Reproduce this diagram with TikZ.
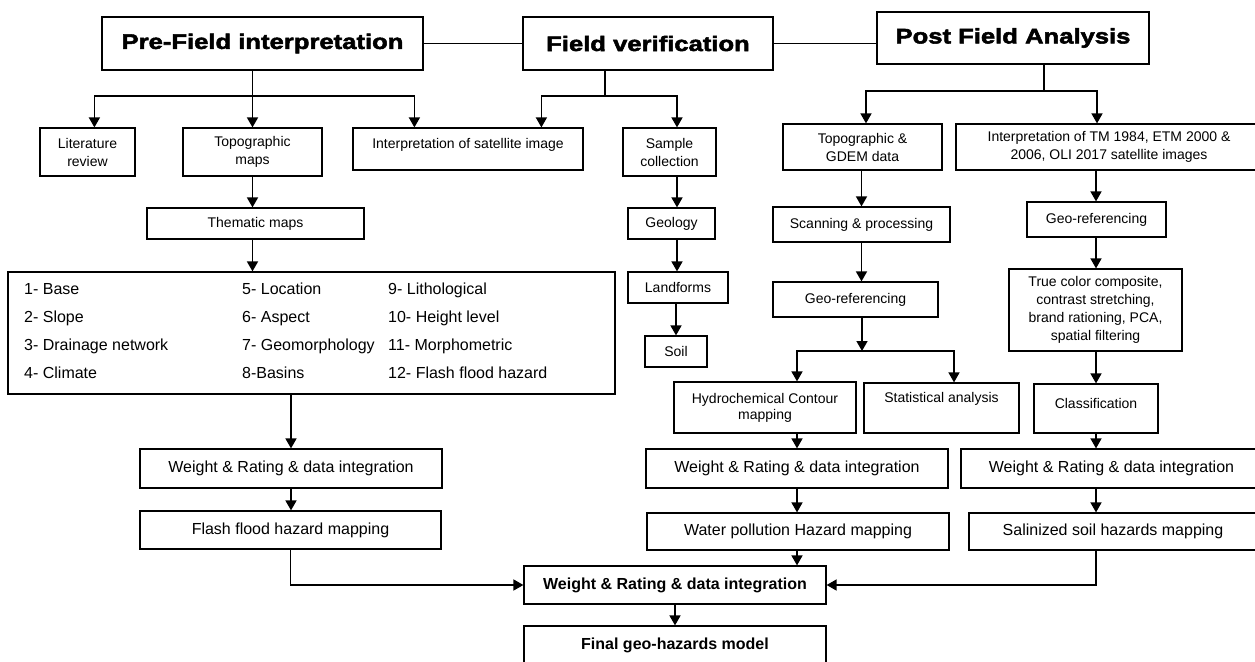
\documentclass[tikz,border=0pt]{standalone}
\usepackage{fontspec}
\setmainfont{Liberation Sans}
\newfontfamily\headfont{Liberation Sans}[FakeStretch=1.22,BoldFeatures={FakeBold=2.5}]
\usetikzlibrary{positioning,arrows.meta}

\tikzset{
  box/.style={draw,line width=1.2pt,inner sep=0pt,align=center,font=\fontsize{14}{18}\selectfont},
  midbox/.style={box,font=\fontsize{16}{20}\selectfont},
  headbox/.style={box,line width=1.4pt,font=\headfont\bfseries\fontsize{21}{25}\selectfont},
  lift/.style={text depth=#1},
  link/.style={line width=1.6pt}
}

\begin{document}
\begin{tikzpicture}[x=1pt,y=-1pt,>={Triangle[length=10pt,width=11pt]}]
  \useasboundingbox (0,0) rectangle (1255,661);
  \clip (0,0) rectangle (1255,661);

  % stages
  \node[headbox,minimum width=321,minimum height=53] (pre) at (262.5,43.5) {Pre-Field interpretation};
  \node[headbox,minimum width=250,minimum height=53] (field) at (648,43.5) {Field verification};
  \node[headbox,minimum width=272,minimum height=52] (post) at (1013,38) {Post Field Analysis};

  % pre-field side
  \node[box,minimum width=95,minimum height=48] (lit) at (87.5,152) {Literature\\review};
  \node[box,minimum width=139,minimum height=48] (topo) at (252.5,152) {Topographic\\maps};
  \node[box,minimum width=230,minimum height=42,lift=11] (satint) at (468,149) {Interpretation of satellite image};
  \node[box,minimum width=217,minimum height=31] (thematic) at (255.5,223.5) {Thematic maps};
  \node[box,minimum width=607,minimum height=122] (params) at (311.5,333) {};
  \node[anchor=west,inner sep=0pt,font=\fontsize{16}{28}\selectfont] (plist) at (24,331) {%
    \begin{tabular}{@{}p{218pt}@{}p{146pt}@{}l@{}}
      1- Base & 5- Location & 9- Lithological\\
      2- Slope & 6- Aspect & 10- Height level\\
      3- Drainage network & 7- Geomorphology & 11- Morphometric\\
      4- Climate & 8-Basins & 12- Flash flood hazard
    \end{tabular}};

  % field side
  \node[box,minimum width=93,minimum height=48] (sample) at (669.5,152) {Sample\\collection};
  \node[box,minimum width=87,minimum height=31] (geology) at (671.5,223.5) {Geology};
  \node[box,minimum width=100,minimum height=31] (landforms) at (678,287.5) {Landforms};
  \node[box,minimum width=62,minimum height=31] (soil) at (676,351.5) {Soil};

  % post-field side
  \node[box,minimum width=159,minimum height=46] (gdem) at (862.5,147) {Topographic \&\\GDEM data};
  \node[box,minimum width=306,minimum height=46] (tm) at (1109,147) {Interpretation of TM 1984, ETM 2000 \&\\2006, OLI 2017 satellite images};
  \node[box,minimum width=177,minimum height=35] (scan) at (861.5,224.5) {Scanning \& processing};
  \node[box,minimum width=165,minimum height=35] (geoA) at (855.5,299.5) {Geo-referencing};
  \node[box,minimum width=139,minimum height=35] (geoB) at (1096.5,219.5) {Geo-referencing};
  \node[box,minimum width=173,minimum height=82] (truecol) at (1095.5,310) {True color composite,\\contrast stretching,\\brand rationing, PCA,\\spatial filtering};
  \node[box,minimum width=182,minimum height=51,font=\fontsize{14}{16}\selectfont] (hydro) at (765,407.5) {Hydrochemical Contour\\mapping};
  \node[box,minimum width=155,minimum height=50,lift=21] (stat) at (941.5,408) {Statistical analysis};
  \node[box,minimum width=124,minimum height=49,lift=11] (classif) at (1096,408.5) {Classification};

  % integration rows
  \node[midbox,minimum width=302,minimum height=39] (wlA) at (291,468.5) {Weight \& Rating \& data integration};
  \node[midbox,minimum width=302,minimum height=39] (wlB) at (797,468.5) {Weight \& Rating \& data integration};
  \node[midbox,minimum width=301,minimum height=39] (wlC) at (1111.5,468.5) {Weight \& Rating \& data integration};
  \node[midbox,minimum width=301,minimum height=38] (flash) at (290.5,530) {Flash flood hazard mapping};
  \node[midbox,minimum width=302,minimum height=37] (water) at (798,531.5) {Water pollution Hazard mapping};
  \node[midbox,minimum width=288,minimum height=37] (salin) at (1113,531.5) {Salinized soil hazards mapping};
  \node[midbox,font=\fontsize{16}{20}\selectfont\bfseries,minimum width=302,minimum height=38] (wall) at (675,585) {Weight \& Rating \& data integration};
  \node[midbox,font=\fontsize{16}{20}\selectfont\bfseries,minimum width=302,minimum height=38] (final) at (675,645) {Final geo-hazards model};

  \coordinate (prebar) at (252.5,96);
  \coordinate (fieldbar) at (605,96);
  \coordinate (postbar) at (1044,91);
  \coordinate (geobar) at (862,351);
  \coordinate (fcol) at (677,0);
  \coordinate (rcol) at (1096,0);

  % top links
  \draw[link] (pre.east) -- (field.west);
  \draw[link] (field.east) -- (field.east -| post.west);

  \draw[link] (pre.south -| prebar) -- (prebar);
  \draw[link,->] (prebar) -| ([xshift=55]lit.north west);
  \draw[link,->] (prebar) -- (topo.north);
  \draw[link,->] (prebar) -| ([xshift=62]satint.north west);
  \draw[link,->] (topo.south) -- (thematic.north -| topo.south);
  \draw[link,->] (thematic.south -| topo.south) -- (params.north -| topo.south);
  \draw[link,->] (params.south -| wlA.north) -- (wlA.north);
  \draw[link,->] (wlA.south) -- (flash.north -| wlA.south);
  \draw[link,->] (flash.south) |- (wall.west);

  \draw[link] (field.south -| fieldbar) -- (fieldbar);
  \draw[link,->] (fieldbar) -| ([xshift=189]satint.north west);
  \draw[link,->] (fieldbar) -| (sample.north -| fcol);
  \draw[link,->] (sample.south -| fcol) -- (geology.north -| fcol);
  \draw[link,->] (geology.south -| fcol) -- (landforms.north -| fcol);
  \draw[link,->] (landforms.south -| soil.north) -- (soil.north);

  \draw[link] (post.south -| postbar) -- (postbar);
  \draw[link,->] (postbar) -| ([xshift=3.5]gdem.north);
  \draw[link,->] (postbar) -| ([xshift=-12]tm.north);
  \draw[link,->] (gdem.south -| scan.north) -- (scan.north);
  \draw[link,->] (scan.south) -- (geoA.north -| scan.south);
  \draw[link,->] (geoA.south -| geobar) -- (geobar);
  \draw[link,->] (geobar) -| (hydro.north -| wlB.north);
  \draw[link,->] (geobar) -| ([xshift=12.5]stat.north);
  \draw[link,->] (hydro.south -| wlB.north) -- (wlB.north);
  \draw[link,->] (wlB.south) -- (water.north -| wlB.south);
  \draw[link,->] (water.south -| wlB.south) -- (wall.north -| wlB.south);

  \draw[link,->] (tm.south -| rcol) -- (geoB.north -| rcol);
  \draw[link,->] (geoB.south -| rcol) -- (truecol.north -| rcol);
  \draw[link,->] (truecol.south -| rcol) -- (classif.north -| rcol);
  \draw[link,->] (classif.south -| rcol) -- (wlC.north -| rcol);
  \draw[link,->] (wlC.south -| rcol) -- (salin.north -| rcol);
  \draw[link,->] (salin.south -| rcol) |- (wall.east);

  \draw[link,->] (wall.south) -- (final.north);
\end{tikzpicture}
\end{document}
